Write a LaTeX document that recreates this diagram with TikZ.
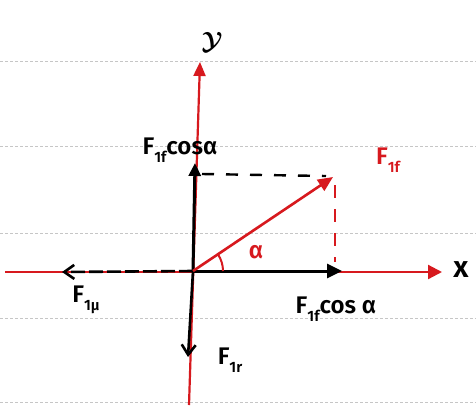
\documentclass[tikz,border=0pt]{standalone}
\usepackage{bm}
\usepackage{fontspec}
\setmainfont{Fira Sans}[BoldFont={Fira Sans SemiBold}]
\usetikzlibrary{arrows.meta}
\definecolor{penred}{RGB}{215,25,30}
\newcommand\lowsub[1]{\raisebox{-0.6ex}{\fontsize{15}{15}\selectfont #1}}
\begin{document}
\begin{tikzpicture}[x=1pt,y=-1pt,
  ruled/.style={gray!45,densely dashed,line width=0.6pt},
  redaxis/.style={penred,line width=2.2pt},
  blackvec/.style={black,line width=3pt},
  lbl/.style={font=\bfseries\fontsize{24}{26}\selectfont,inner sep=0pt},
  redlbl/.style={lbl,text=penred}]
\useasboundingbox (0,0) rectangle (476,405);
\fill[white] (0,0) rectangle (476,405);
% ruled paper lines
\foreach \yy in {61,146,233,318,402}
  \draw[ruled] (0,\yy) -- (476,\yy);
% coordinates
\coordinate (O) at (193,271);
\coordinate (ytop) at (200,62);
\coordinate (ybot) at (189,405);
\coordinate (xleft) at (5,272);
\coordinate (xright) at (442,272);
\coordinate (vup) at (195,163);
\coordinate (vtip) at (333,177);
\coordinate (dashA) at (202,174);
\coordinate (dashB) at (326,176);
\coordinate (vdA) at (335,185);
\coordinate (vdB) at (335,262);
\coordinate (hx) at (342,271);
\coordinate (lft) at (62,272);
\coordinate (dn) at (188,357);
% axes
\draw[redaxis,-{Triangle[length=14pt,width=14pt]}] (xleft) -- (xright);
\draw[redaxis,-{Triangle[length=14pt,width=12pt]}] (ybot) -- (ytop);
% components
\draw[blackvec,-{Triangle[length=13pt,width=12pt]}] (O) -- (vup);
\draw[blackvec,-{Triangle[length=15pt,width=14pt]}] (O) -- (hx);
\draw[black,line width=2.6pt,dash pattern=on 14pt off 4pt,-{Straight Barb[length=10pt,width=14pt]}] (O) -- (lft);
\draw[black,line width=2.6pt,-{Straight Barb[length=10pt,width=14pt]}] (O) -- (dn);
% dashed construction lines
\draw[black,line width=2.4pt,dash pattern=on 12pt off 12pt] (dashA) -- (dashB);
\draw[penred,line width=2.6pt,dash pattern=on 13pt off 11pt] (vdA) -- (vdB);
% red vector
\draw[penred,line width=2.6pt,-{Triangle[length=15pt,width=13pt]}] (O) -- (vtip);
% angle arc
\draw[penred,line width=2pt] ([shift={(30,0)}]O) arc[start angle=0,end angle=-34,radius=30];
% labels
\node[lbl] (ylab) at (212,42) {\fontsize{32}{34}\selectfont $\bm{\mathcal{Y}}$};
\node[lbl] (xlab) at (461,270) {\fontsize{30}{32}\selectfont x};
\node[lbl] (lupper) at (180,150) {F\lowsub{1f}cosα};
\node[redlbl] (lvec) at (388,160) {F\lowsub{1f}};
\node[redlbl] (lalpha) at (256,252) {α};
\node[lbl] (llower) at (336,309) {F\lowsub{1f}cos α};
\node[lbl] (lmu) at (86,300) {F\lowsub{1μ}};
\node[lbl] (lr) at (230,360) {F\lowsub{1r}};
\end{tikzpicture}
\end{document}
